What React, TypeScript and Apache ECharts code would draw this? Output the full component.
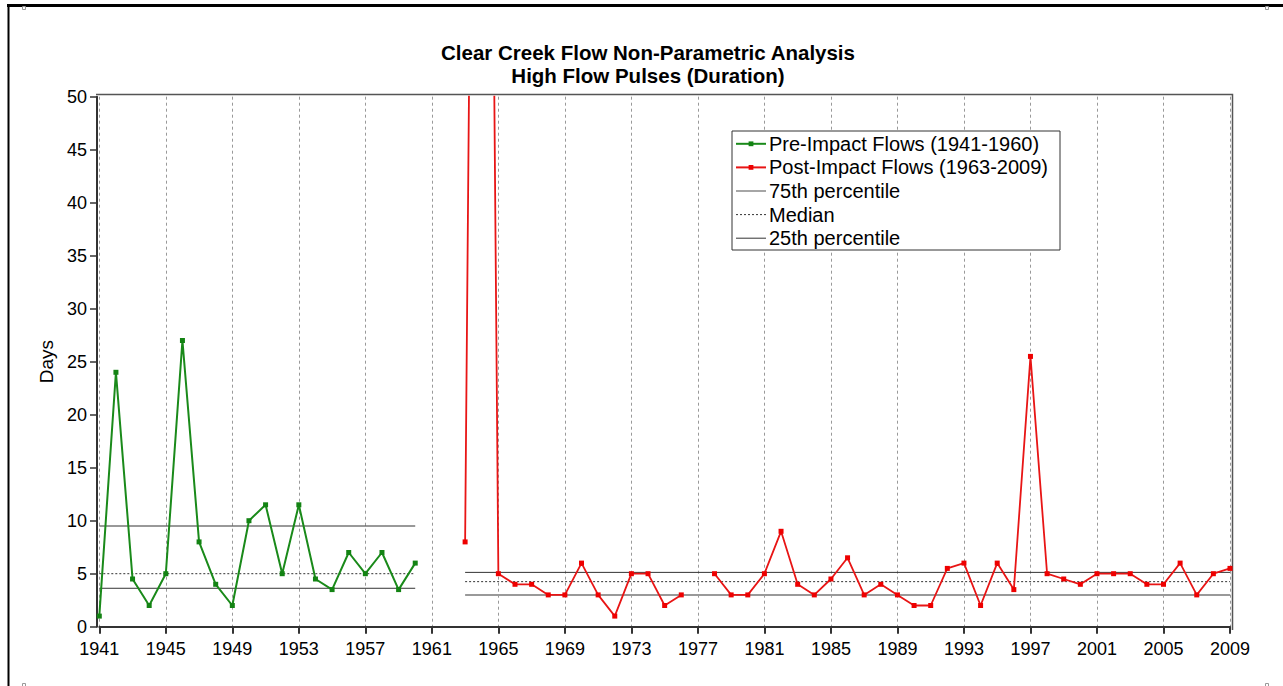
import React, { useEffect, useRef } from "react";
import * as echarts from "echarts";

const FONT = "'Liberation Sans', Arial, sans-serif";

const titleLines = ["Clear Creek Flow Non-Parametric Analysis", "High Flow Pulses (Duration)"];
const yAxisName = "Days";

const preName = "Pre-Impact Flows (1941-1960)";
const postName = "Post-Impact Flows (1963-2009)";
const p75Name = "75th percentile";
const medName = "Median";
const p25Name = "25th percentile";

const preYears = [1941, 1942, 1943, 1944, 1945, 1946, 1947, 1948, 1949, 1950, 1951, 1952, 1953, 1954, 1955, 1956, 1957, 1958, 1959, 1960];
const preDays = [1, 24, 4.5, 2, 5, 27, 8, 4, 2, 10, 11.5, 5, 11.5, 4.5, 3.5, 7, 5, 7, 3.5, 6];

const postYears = [1963, 1964, 1965, 1966, 1967, 1968, 1969, 1970, 1971, 1972, 1973, 1974, 1975, 1976, 1977, 1978, 1979, 1980, 1981, 1982, 1983, 1984, 1985, 1986, 1987, 1988, 1989, 1990, 1991, 1992, 1993, 1994, 1995, 1996, 1997, 1998, 1999, 2000, 2001, 2002, 2003, 2004, 2005, 2006, 2007, 2008, 2009];
const postDays: (number | null)[] = [8, 190, 5, 4, 4, 3, 3, 6, 3, 1, 5, 5, 2, 3, null, 5, 3, 3, 5, 9, 4, 3, 4.5, 6.5, 3, 4, 3, 2, 2, 5.5, 6, 2, 6, 3.5, 25.5, 5, 4.5, 4, 5, 5, 5, 4, 4, 6, 3, 5, 5.5];

// [75th, median, 25th]
const preStats = [9.5, 5, 3.625];
const postStats = [5.125, 4.25, 3];

const xMin = 1941;
const xMax = 2009;
const xStep = 4;
const yMin = 0;
const yMax = 50;
const yStep = 5;

export default function App() {
  const ref = useRef<HTMLDivElement>(null);
  useEffect(() => {
    if (!ref.current) return;
    const chart = echarts.init(ref.current, undefined, { renderer: "svg" });
    const preStart = preYears[0];
    const preEnd = preYears[preYears.length - 1];
    const postStart = postYears[0];
    const postEnd = postYears[postYears.length - 1];
    const hline = (name: string, a: number, b: number, v: number, ls: any) => ({
      name,
      type: "line",
      data: [[a, v], [b, v]],
      symbol: "none",
      showSymbol: false,
      lineStyle: ls,
      itemStyle: { color: ls.color },
      z: 1,
      silent: true,
    });
    const hiddenDot = { color: "rgba(0,0,0,0)", opacity: 0, borderWidth: 0 };
    const option: any = {
      animation: false,
      backgroundColor: "#fff",
      textStyle: { fontFamily: FONT },
      title: {
        text: titleLines.join("\n"),
        left: 643,
        textAlign: "center",
        top: 36,
        textStyle: { fontFamily: FONT, fontSize: 20.5, fontWeight: "bold", color: "#000", lineHeight: 23 },
      },
      grid: { left: 99.3, right: 53, top: 96.7, bottom: 59.3, containLabel: false },
      legend: {
        orient: "vertical",
        left: 732,
        top: 131,
        padding: [1, 12, 0, 3],
        itemGap: 0,
        itemWidth: 30,
        itemHeight: 6,
        selectedMode: false,
        borderColor: "#333",
        borderWidth: 1,
        backgroundColor: "#fff",
        textStyle: { fontFamily: FONT, fontSize: 20, lineHeight: 23.6, color: "#000", padding: [0, 0, 0, -2] },
        data: [
          { name: preName },
          { name: postName },
          { name: p75Name, lineStyle: { color: "#888", width: 1.5, type: "solid" }, itemStyle: hiddenDot },
          { name: medName, lineStyle: { color: "#333", width: 1, type: [2, 2] }, itemStyle: hiddenDot },
          { name: p25Name, lineStyle: { color: "#333", width: 1, type: "solid" }, itemStyle: hiddenDot },
        ],
      },
      xAxis: {
        type: "value",
        min: xMin,
        max: xMax,
        interval: xStep,
        offset: 2.3,
        axisLine: { show: true, lineStyle: { color: "#333", width: 2 } },
        axisTick: { show: true, length: 7, lineStyle: { color: "#333", width: 2 } },
        axisLabel: { fontFamily: FONT, fontSize: 18, color: "#000", margin: 11, formatter: (v: number) => String(v) },
        splitLine: { show: true, lineStyle: { color: "#999", width: 1, type: [3, 3] } },
      },
      yAxis: {
        type: "value",
        min: yMin,
        max: yMax,
        interval: yStep,
        offset: 2.3,
        name: yAxisName,
        nameLocation: "middle",
        nameGap: 38,
        nameRotate: 90,
        nameTextStyle: { fontFamily: FONT, fontSize: 19, color: "#000" },
        axisLine: { show: true, lineStyle: { color: "#333", width: 2 } },
        axisTick: { show: true, length: 7, lineStyle: { color: "#333", width: 1.5 } },
        axisLabel: { fontFamily: FONT, fontSize: 18, color: "#000", margin: 10 },
        splitLine: { show: false },
      },
      graphic: [
        { type: "polyline", silent: true, shape: { points: [[96, 94.5], [1232.5, 94.5], [1232.5, 630]] }, style: { stroke: "#555", lineWidth: 1.5, fill: null } },
        { type: "line", silent: true, shape: { x1: 7, y1: 5.5, x2: 1283, y2: 5.5 }, style: { stroke: "#000", lineWidth: 3 } },
        { type: "line", silent: true, shape: { x1: 8.5, y1: 4, x2: 8.5, y2: 686 }, style: { stroke: "#000", lineWidth: 2 } },
        { type: "rect", silent: true, shape: { x: 22.5, y: 6.5, width: 3, height: 3 }, style: { stroke: "#999", lineWidth: 1, fill: null } },
        { type: "rect", silent: true, shape: { x: 1265.5, y: 6.5, width: 3, height: 3 }, style: { stroke: "#999", lineWidth: 1, fill: null } },
        { type: "rect", silent: true, shape: { x: 22.5, y: 683.5, width: 3, height: 3 }, style: { stroke: "#999", lineWidth: 1, fill: null } },
        { type: "rect", silent: true, shape: { x: 1265.5, y: 683.5, width: 3, height: 3 }, style: { stroke: "#999", lineWidth: 1, fill: null } },
      ],
      series: [
        {
          name: preName,
          type: "line",
          data: preYears.map((y, i) => [y, preDays[i]]),
          symbol: "rect",
          symbolSize: 5,
          showSymbol: true,
          clip: true,
          lineStyle: { color: "#1a8a1a", width: 2 },
          itemStyle: { color: "#138313" },
          z: 3,
        },
        {
          name: postName,
          type: "line",
          data: postYears.map((y, i) => [y, postDays[i]]),
          connectNulls: false,
          symbol: "rect",
          symbolSize: 5,
          showSymbol: true,
          clip: true,
          lineStyle: { color: "#e81515", width: 1.8 },
          itemStyle: { color: "#ee0000" },
          z: 3,
        },
        hline(p75Name, preStart, preEnd, preStats[0], { color: "#333", width: 1, type: "solid" }),
        hline(medName, preStart, preEnd, preStats[1], { color: "#333", width: 1, type: [2, 2] }),
        hline(p25Name, preStart, preEnd, preStats[2], { color: "#333", width: 1, type: "solid" }),
        hline(p75Name, postStart, postEnd, postStats[0], { color: "#333", width: 1, type: "solid" }),
        hline(medName, postStart, postEnd, postStats[1], { color: "#333", width: 1, type: [2, 2] }),
        hline(p25Name, postStart, postEnd, postStats[2], { color: "#999", width: 2, type: "solid" }),
      ],
    };
    chart.setOption(option);
    return () => chart.dispose();
  }, []);
  return (
    <div
      ref={ref}
      style={{ position: "absolute", left: 0, top: 0, width: 1283, height: 686, background: "#fff" }}
    />
  );
}
